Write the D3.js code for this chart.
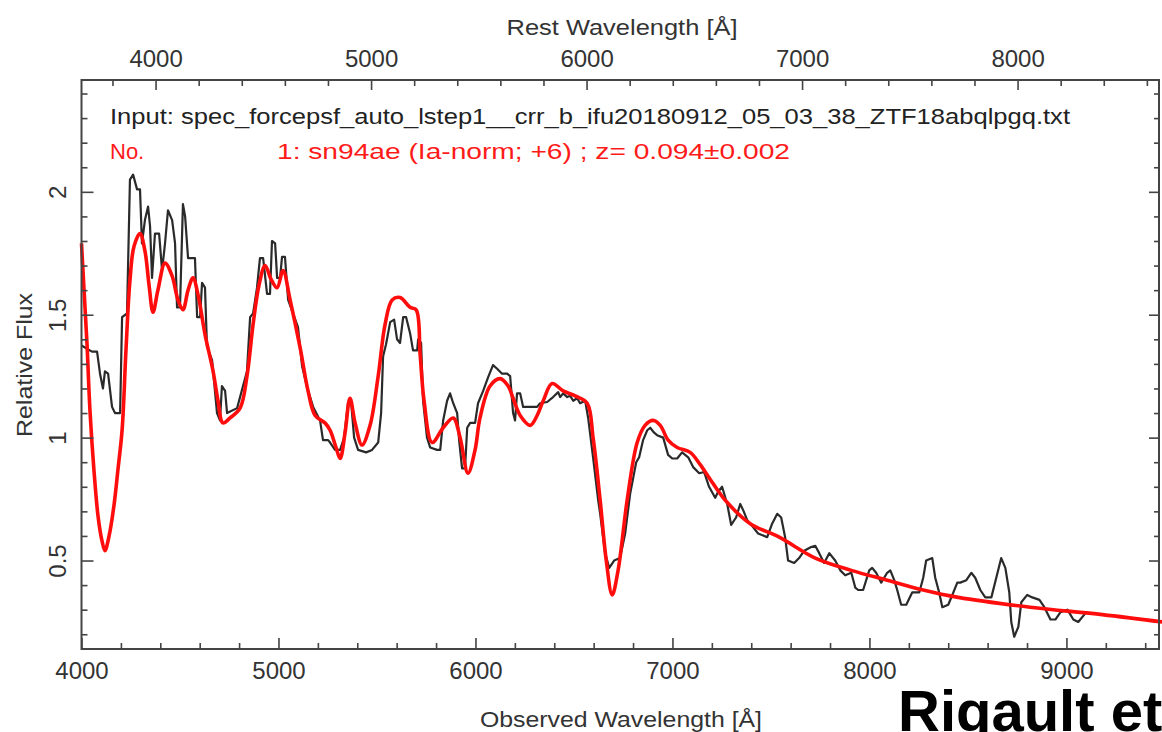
<!DOCTYPE html>
<html>
<head>
<meta charset="utf-8">
<script src="https://cdn.jsdelivr.net/npm/d3@7"></script>
<style>
  body { margin: 0; background: #fff; }
  text { font-family: "Liberation Sans", Arial, Helvetica, sans-serif; }
</style>
</head>
<body>
<div id="chart"></div>
<script>
// redshift of the best match, used for the rest-frame axis on top
const z = 0.094;

const obsTicks = [4000, 5000, 6000, 7000, 8000, 9000];
const restTicks = [4000, 5000, 6000, 7000, 8000];
const fluxTicks = [0.5, 1, 1.5, 2];

// observed spectrum [wavelength (Å), relative flux]
const observed = [
  [4000,1.375],[4053,1.35],[4079,1.35],[4094,1.26],[4109,1.20],[4119,1.27],[4135,1.26],[4155,1.125],
  [4170,1.10],[4196,1.10],[4206,1.49],[4231,1.505],[4246,2.05],[4262,2.07],[4282,2.01],[4297,2.01],
  [4307,1.79],[4322,1.885],[4338,1.94],[4348,1.86],[4358,1.65],[4373,1.83],[4394,1.83],[4409,1.68],
  [4424,1.79],[4439,1.925],[4460,1.885],[4475,1.79],[4485,1.53],[4500,1.53],[4515,1.95],[4526,1.90],
  [4541,1.73],[4576,1.73],[4587,1.49],[4602,1.49],[4612,1.63],[4627,1.61],[4637,1.37],[4663,1.315],
  [4688,1.10],[4703,1.07],[4713,1.21],[4729,1.19],[4739,1.10],[4790,1.12],[4840,1.27],[4856,1.49],
  [4871,1.505],[4891,1.61],[4906,1.73],[4922,1.73],[4942,1.585],[4957,1.585],[4967,1.80],[4983,1.79],
  [4993,1.65],[5008,1.65],[5018,1.735],[5033,1.735],[5049,1.56],[5099,1.45],[5120,1.29],[5145,1.205],
  [5176,1.125],[5211,1.07],[5226,0.99],[5252,0.99],[5262,0.98],[5287,0.95],[5313,0.95],[5333,1.0],
  [5353,1.14],[5368,1.15],[5384,1.0],[5404,0.95],[5445,0.94],[5475,0.95],[5506,0.98],[5521,1.1],
  [5531,1.33],[5546,1.38],[5567,1.47],[5587,1.48],[5602,1.40],[5617,1.385],[5633,1.49],[5648,1.49],
  [5668,1.425],[5683,1.355],[5704,1.355],[5709,1.40],[5724,1.385],[5734,1.15],[5754,1.0],[5770,0.96],
  [5805,0.95],[5821,0.95],[5836,1.07],[5856,1.15],[5871,1.18],[5887,1.14],[5907,1.10],[5917,0.99],
  [5932,0.875],[5947,0.875],[5958,1.04],[5973,1.06],[5998,1.06],[6013,1.14],[6039,1.19],[6064,1.245],
  [6089,1.295],[6110,1.28],[6135,1.26],[6161,1.26],[6176,1.25],[6191,1.10],[6201,1.07],[6211,1.18],
  [6227,1.18],[6242,1.125],[6313,1.125],[6328,1.14],[6364,1.145],[6394,1.165],[6420,1.185],[6430,1.165],
  [6445,1.18],[6466,1.165],[6481,1.17],[6496,1.15],[6516,1.16],[6531,1.14],[6557,1.15],[6572,1.08],
  [6597,0.92],[6623,0.745],[6633,0.69],[6658,0.53],[6679,0.47],[6704,0.50],[6734,0.51],[6760,0.61],
  [6785,0.77],[6816,0.90],[6831,0.92],[6851,0.99],[6872,1.03],[6887,1.04],[6907,1.02],[6922,1.01],
  [6953,1.00],[6978,0.93],[6999,0.915],[7024,0.915],[7049,0.94],[7080,0.92],[7105,0.88],[7136,0.855],
  [7161,0.86],[7186,0.80],[7217,0.755],[7232,0.78],[7252,0.80],[7278,0.73],[7298,0.645],[7323,0.675],
  [7344,0.73],[7359,0.705],[7379,0.665],[7395,0.65],[7435,0.61],[7481,0.595],[7506,0.65],[7532,0.69],
  [7552,0.675],[7572,0.595],[7587,0.50],[7618,0.49],[7643,0.51],[7669,0.54],[7704,0.555],[7725,0.56],
  [7745,0.53],[7770,0.49],[7796,0.53],[7826,0.50],[7852,0.46],[7877,0.44],[7908,0.45],[7928,0.39],
  [7943,0.38],[7968,0.38],[7999,0.46],[8014,0.47],[8034,0.45],[8060,0.41],[8090,0.45],[8106,0.46],
  [8126,0.42],[8141,0.38],[8161,0.32],[8187,0.32],[8217,0.37],[8253,0.37],[8273,0.43],[8288,0.50],
  [8319,0.51],[8334,0.43],[8354,0.37],[8370,0.31],[8400,0.32],[8426,0.37],[8446,0.41],[8461,0.41],
  [8492,0.42],[8517,0.45],[8537,0.43],[8563,0.38],[8588,0.35],[8619,0.35],[8644,0.43],[8669,0.51],
  [8690,0.47],[8710,0.37],[8720,0.25],[8735,0.19],[8756,0.23],[8771,0.33],[8801,0.36],[8827,0.35],
  [8863,0.34],[8888,0.31],[8919,0.26],[8944,0.26],[8970,0.29],[9005,0.30],[9035,0.26],[9060,0.25],
  [9096,0.285]
];

// best-match template sn94ae, same units
const template = [
  [4000,1.79],[4013,1.6],[4028,1.38],[4043,1.11],[4063,0.87],[4084,0.68],[4104,0.58],[4119,0.54],
  [4140,0.60],[4165,0.725],[4185,0.87],[4206,1.03],[4226,1.36],[4246,1.64],[4267,1.78],[4297,1.83],
  [4322,1.76],[4343,1.62],[4363,1.51],[4388,1.60],[4424,1.71],[4459,1.66],[4490,1.56],[4515,1.52],
  [4541,1.60],[4566,1.65],[4592,1.58],[4627,1.42],[4668,1.27],[4693,1.15],[4718,1.06],[4754,1.08],
  [4805,1.12],[4840,1.25],[4871,1.46],[4901,1.62],[4932,1.70],[4962,1.645],[4993,1.61],[5023,1.68],
  [5059,1.56],[5110,1.365],[5150,1.19],[5186,1.09],[5236,1.06],[5262,1.03],[5292,0.96],[5313,0.915],
  [5338,1.02],[5363,1.16],[5389,1.06],[5424,0.97],[5465,1.05],[5506,1.25],[5541,1.46],[5577,1.56],
  [5617,1.57],[5668,1.53],[5699,1.52],[5719,1.34],[5739,1.15],[5780,0.98],[5836,1.04],[5887,1.08],
  [5922,1.0],[5962,0.855],[5998,0.95],[6023,1.08],[6074,1.21],[6125,1.24],[6166,1.21],[6191,1.16],
  [6227,1.09],[6278,1.05],[6313,1.09],[6344,1.15],[6389,1.22],[6445,1.19],[6506,1.17],[6567,1.14],
  [6597,1.0],[6633,0.745],[6664,0.50],[6694,0.36],[6724,0.46],[6770,0.745],[6821,0.98],[6861,1.05],
  [6902,1.07],[6938,1.05],[6978,0.99],[7024,0.96],[7090,0.94],[7141,0.89],[7192,0.83],[7268,0.745],
  [7395,0.65],[7542,0.595],[7725,0.51],[7908,0.46],[8090,0.42],[8273,0.38],[8451,0.35],[8816,0.31],
  [9182,0.28],[9487,0.25]
];

const width = 1162, height = 732;
const frame = { left: 81.5, right: 1159, top: 80, bottom: 649 };
const axisColor = "#444";
const labelColor = "#333";

const x = d3.scaleLinear().domain([4000, 9470]).range([frame.left, frame.right]);
const xRest = d3.scaleLinear().domain([4000 / (1 + z), 9470 / (1 + z)]).range([frame.left, frame.right]);
const y = d3.scaleLinear().domain([0.14, 2.455]).range([frame.bottom, frame.top]);

const svg = d3.select("#chart").append("svg")
  .attr("width", width)
  .attr("height", height);

// spectra
const line = d3.line().x(d => x(d[0])).y(d => y(d[1]));

svg.append("path")
  .datum(observed)
  .attr("d", line)
  .attr("fill", "none")
  .attr("stroke", "#2a2a2a")
  .attr("stroke-width", 2.2)
  .attr("stroke-linejoin", "round");

svg.append("path")
  .datum(template)
  .attr("d", line.curve(d3.curveCatmullRom.alpha(0.5)))
  .attr("fill", "none")
  .attr("stroke", "#ff0d0d")
  .attr("stroke-width", 3.6)
  .attr("stroke-linejoin", "round");

// minor tick values
const obsMinor = d3.range(4200, 9470, 200).filter(v => v % 1000 !== 0);
const restMinor = d3.range(3800, 8660, 200).filter(v => v % 1000 !== 0);
const fluxMinor = d3.range(2, 25).filter(i => i % 5 !== 0).map(i => i / 10);

function styleAxis(g) {
  g.select(".domain").remove();
  g.selectAll(".tick line").attr("stroke", axisColor).attr("stroke-width", 1.6);
  g.selectAll("text")
    .style("font-size", "24px")
    .style("font-family", "'Liberation Sans', Arial, sans-serif")
    .attr("fill", labelColor);
}

// bottom (observed wavelength)
svg.append("g").attr("transform", `translate(0,${frame.bottom})`)
  .call(d3.axisBottom(x).tickValues(obsTicks).tickSize(-11).tickPadding(13).tickFormat(d3.format("d")))
  .call(styleAxis);
svg.append("g").attr("transform", `translate(0,${frame.bottom})`)
  .call(d3.axisBottom(x).tickValues(obsMinor).tickSize(-6).tickFormat(""))
  .call(styleAxis);

// top (rest wavelength)
svg.append("g").attr("transform", `translate(0,${frame.top})`)
  .call(d3.axisTop(xRest).tickValues(restTicks).tickSize(-10).tickPadding(13).tickFormat(d3.format("d")))
  .call(styleAxis);
svg.append("g").attr("transform", `translate(0,${frame.top})`)
  .call(d3.axisTop(xRest).tickValues(restMinor).tickSize(-6).tickFormat(""))
  .call(styleAxis);

// left (relative flux), labels turned like the original
svg.append("g").attr("transform", `translate(${frame.left},0)`)
  .call(d3.axisLeft(y).tickValues(fluxTicks).tickSize(-12).tickFormat(d3.format("")))
  .call(styleAxis)
  .selectAll("text")
  .attr("x", 0)
  .attr("dy", 0)
  .attr("text-anchor", "middle")
  .attr("transform", "translate(-15.5,0) rotate(-90)");
svg.append("g").attr("transform", `translate(${frame.left},0)`)
  .call(d3.axisLeft(y).tickValues(fluxMinor).tickSize(-6).tickFormat(""))
  .call(styleAxis);

// right
svg.append("g").attr("transform", `translate(${frame.right},0)`)
  .call(d3.axisRight(y).tickValues(fluxTicks).tickSize(-10).tickFormat(""))
  .call(styleAxis);
svg.append("g").attr("transform", `translate(${frame.right},0)`)
  .call(d3.axisRight(y).tickValues(fluxMinor).tickSize(-5).tickFormat(""))
  .call(styleAxis);

// frame
svg.append("rect")
  .attr("x", frame.left)
  .attr("y", frame.top)
  .attr("width", frame.right - frame.left)
  .attr("height", frame.bottom - frame.top)
  .attr("fill", "none")
  .attr("stroke", axisColor)
  .attr("stroke-width", 2);

// axis titles
svg.append("text")
  .attr("x", 622).attr("y", 35)
  .attr("text-anchor", "middle")
  .attr("textLength", 231).attr("lengthAdjust", "spacingAndGlyphs")
  .style("font-size", "22px").attr("fill", labelColor)
  .text("Rest Wavelength [Å]");

svg.append("text")
  .attr("x", 621).attr("y", 727)
  .attr("text-anchor", "middle")
  .attr("textLength", 282).attr("lengthAdjust", "spacingAndGlyphs")
  .style("font-size", "22px").attr("fill", labelColor)
  .text("Observed Wavelength [Å]");

svg.append("text")
  .attr("transform", "translate(32,365) rotate(-90)")
  .attr("text-anchor", "middle")
  .attr("textLength", 144).attr("lengthAdjust", "spacingAndGlyphs")
  .style("font-size", "22px").attr("fill", labelColor)
  .text("Relative Flux");

// annotations inside the frame
svg.append("text")
  .attr("x", 110).attr("y", 124)
  .attr("textLength", 960).attr("lengthAdjust", "spacingAndGlyphs")
  .style("font-size", "22px").attr("fill", "#222")
  .text("Input: spec_forcepsf_auto_lstep1__crr_b_ifu20180912_05_03_38_ZTF18abqlpgq.txt");

svg.append("text")
  .attr("x", 110).attr("y", 159)
  .style("font-size", "22px").attr("fill", "#ff1a1a")
  .text("No.");

svg.append("text")
  .attr("x", 277).attr("y", 159)
  .attr("textLength", 513).attr("lengthAdjust", "spacingAndGlyphs")
  .style("font-size", "22px").attr("fill", "#ff1a1a")
  .text("1: sn94ae (Ia-norm; +6) ; z= 0.094±0.002");

// caption cut off at the page edge
svg.append("text")
  .attr("x", 898).attr("y", 731)
  .style("font-size", "58px").style("font-weight", "bold")
  .attr("fill", "#000")
  .text("Rigault et");
</script>
</body>
</html>
